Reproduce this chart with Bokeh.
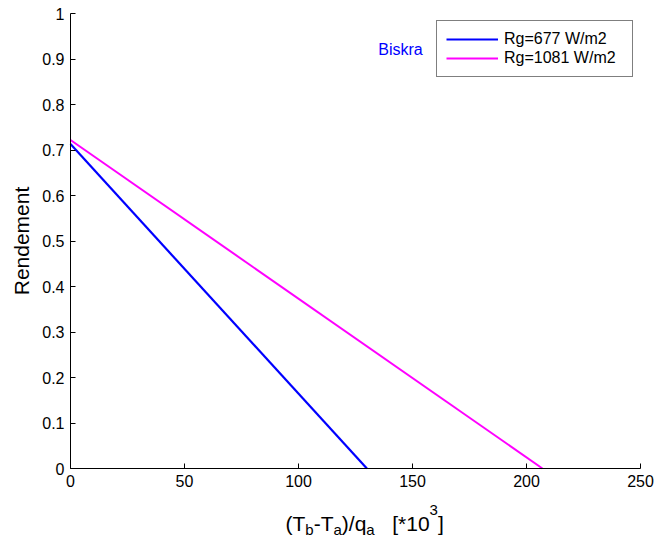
import math
from bokeh.plotting import figure
from bokeh.models import Range1d, FixedTicker, Label, Legend, LegendItem
from bokeh.embed import file_html
from bokeh.resources import INLINE

# ---------------- data ----------------
x_ticks = [0, 50, 100, 150, 200, 250]
x_tick_labels = ["0", "50", "100", "150", "200", "250"]
y_ticks = [0, 0.1, 0.2, 0.3, 0.4, 0.5, 0.6, 0.7, 0.8, 0.9, 1]
y_tick_labels = ["0", "0.1", "0.2", "0.3", "0.4", "0.5", "0.6", "0.7", "0.8", "0.9", "1"]

series_names = ["Rg=677 W/m2", "Rg=1081 W/m2"]
x_677 = [0, 130]
y_677 = [0.713, 0]
x_1081 = [0, 207]
y_1081 = [0.722, 0]

site_name = "Biskra"
site_x = 135
site_y = 0.92

y_label = "Rendement"
# x label pieces: (text, kind) kind: main / sub / sup / space
x_label_parts = [("(T", "main"), ("b", "sub"), ("-T", "main"), ("a", "sub"),
                 (")/q", "main"), ("a", "sub"), ("   ", "space"), ("[*10", "main"),
                 ("3", "sup"), ("]", "main")]

FONT = "Liberation Sans"

# ---------------- geometry (pixels) ----------------
W, H = 656, 537
AX_LEFT, AX_RIGHT = 70, 640       # pixel columns of x = 0 and x = 250
AX_TOP, AX_BOTTOM = 13, 468       # pixel rows of y = 1 and y = 0
PX_PER_X = (AX_RIGHT - AX_LEFT) / (x_ticks[-1] - x_ticks[0])
PX_PER_Y = (AX_BOTTOM - AX_TOP) / (y_ticks[-1] - y_ticks[0])


def px_to_x(px):
    return x_ticks[0] + (px - AX_LEFT) / PX_PER_X


def py_to_y(py):
    return y_ticks[0] + (AX_BOTTOM - py) / PX_PER_Y


# the frame covers the whole canvas; axes are pinned at the data origin
p = figure(width=W, height=H, output_backend="svg", toolbar_location=None,
           x_range=Range1d(px_to_x(0), px_to_x(W)), y_range=Range1d(py_to_y(H), py_to_y(0)),
           min_border=0, min_border_left=0, min_border_right=0,
           min_border_top=0, min_border_bottom=0)
p.background_fill_color = "white"
p.border_fill_color = "white"
p.outline_line_color = None
p.grid.grid_line_color = None

r1 = p.line(x_677, y_677, line_color="#0000ff", line_width=2.2)
r2 = p.line(x_1081, y_1081, line_color="#ff00ff", line_width=2)

for ax in (p.xaxis[0], p.yaxis[0]):
    ax.axis_line_color = "black"
    ax.axis_line_width = 1
    ax.major_tick_line_color = "black"
    ax.major_tick_in = 5
    ax.major_tick_out = 0
    ax.minor_tick_line_color = None
    ax.major_label_text_font = FONT
    ax.major_label_text_font_size = "16px"
    ax.major_label_text_color = "black"
    ax.major_label_standoff = 6
    ax.axis_label = None

p.xaxis.fixed_location = y_ticks[0]
p.xaxis.bounds = (x_ticks[0], x_ticks[-1])
p.xaxis.ticker = FixedTicker(ticks=x_ticks)
p.xaxis.major_label_overrides = {t: l for t, l in zip(x_ticks, x_tick_labels)}

p.yaxis.fixed_location = x_ticks[0]
p.yaxis.bounds = (y_ticks[0], y_ticks[-1])
p.yaxis.ticker = FixedTicker(ticks=y_ticks)
p.yaxis.major_label_overrides = {t: l for t, l in zip(y_ticks, y_tick_labels)}

# ---------------- y label ----------------
p.add_layout(Label(x=px_to_x(21), y=(y_ticks[0] + y_ticks[-1]) / 2, text=y_label,
                   angle=math.pi / 2, text_font=FONT, text_font_size="21px",
                   text_color="black", text_align="center", text_baseline="alphabetic"))

# ---------------- legend ----------------
legend = Legend(items=[LegendItem(label=series_names[0], renderers=[r1]),
                       LegendItem(label=series_names[1], renderers=[r2])],
                location=(436, H - 77), orientation="vertical",
                border_line_color="black", border_line_width=1,
                background_fill_color="white", background_fill_alpha=1,
                padding=9, spacing=1, margin=0,
                label_text_font=FONT, label_text_font_size="16px", label_text_color="black",
                glyph_width=52, glyph_height=18, label_height=18, label_width=119,
                label_standoff=6)
p.add_layout(legend)

# ---------------- site annotation ----------------
p.add_layout(Label(x=site_x, y=site_y, text=site_name, text_font=FONT,
                   text_font_size="16px", text_color="#0000ff",
                   text_align="left", text_baseline="middle"))

# ---------------- x label with sub/superscripts ----------------
adv = {"(": 333, ")": 333, "T": 611, "b": 556, "a": 556, "-": 333, "/": 278,
       "q": 556, " ": 278, "[": 278, "]": 278, "*": 389, "1": 556, "0": 556, "3": 556}
MAIN, SMALL = 21, 15
sizes = {"main": MAIN, "sub": SMALL, "sup": SMALL, "space": MAIN}
base_px = {"main": 523, "sub": 529, "sup": 509}    # baselines, pixel rows
cx = 285                                             # pixel column where label starts
for txt, kind in x_label_parts:
    wdt = sum(adv[c] for c in txt) / 1000 * sizes[kind]
    if kind != "space":
        p.add_layout(Label(x=px_to_x(cx), y=py_to_y(base_px[kind]),
                           text=txt, text_font=FONT, text_font_size=f"{sizes[kind]}px",
                           text_color="black", text_align="left",
                           text_baseline="alphabetic"))
    cx += wdt

open("out.html", "w").write(file_html(p, INLINE))
